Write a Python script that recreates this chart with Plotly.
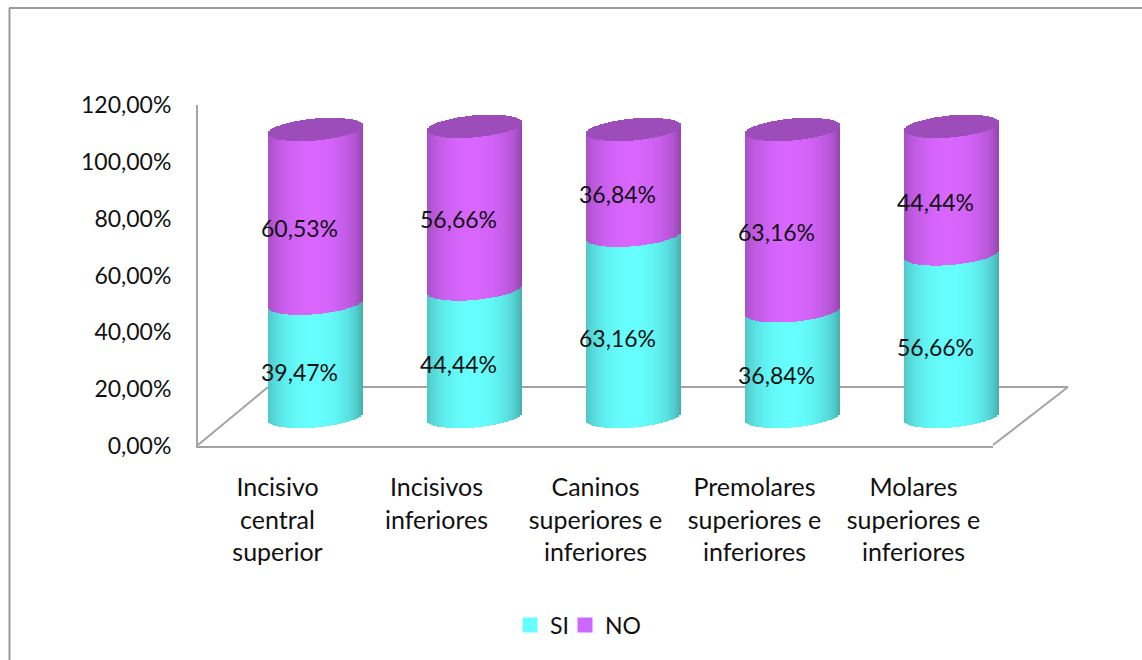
import numpy as np
import plotly.graph_objects as go

W, H = 1142, 660
categories = ["Incisivo<br>central<br>superior", "Incisivos<br>inferiores",
              "Caninos<br>superiores e<br>inferiores", "Premolares<br>superiores e<br>inferiores",
              "Molares<br>superiores e<br>inferiores"]
si_values = [39.47, 44.44, 63.16, 36.84, 56.66]
no_values = [60.53, 56.66, 36.84, 63.16, 44.44]
y_ticks = [0, 20, 40, 60, 80, 100, 120]
y_tick_labels = ["0,00%", "20,00%", "40,00%", "60,00%", "80,00%", "100,00%", "120,00%"]

FONT = "Lato"
TXT = "#111111"
GRAY = "#a3a3a3"

# front-plane scale of the cylinders (axis ranges chosen so that 100 % spans 287 px)
PX_PER_PCT = 2.87
PX_PER_CAT = 159.0
BASE_PX = 416.5
FIRST_PX = 315.5
RADIUS_PX = 47.5
TILT_PX = 4.0
SAG_PX = 11.0
N_STRIPS = 48


def shade(rgb, f):
    return "rgb(%d,%d,%d)" % tuple(int(round(c * f)) for c in rgb)


CYAN = (102, 255, 255)
PURPLE = (217, 102, 255)
CAP = (156, 77, 186)

u = (np.arange(N_STRIPS) + 0.5) / N_STRIPS * 2 - 1
sq = np.sqrt(1 - u ** 2)
light = 0.70 + 0.30 * np.clip(np.cos((u + 0.05) * np.pi / 2), 0, 1) ** 0.55
front = (TILT_PX * u - SAG_PX * sq) / PX_PER_PCT
back = (TILT_PX * u + SAG_PX * sq) / PX_PER_PCT
strip_w = 2 * RADIUS_PX / N_STRIPS / PX_PER_CAT * 1.05
strip_x = u * RADIUS_PX / PX_PER_CAT


def cylinder_trace(start, height, rgb, use_light=True):
    xs, bases, hs, cols = [], [], [], []
    for i in range(len(categories)):
        xs.extend(i + strip_x)
        bases.extend(start[i] + front)
        hs.extend(height[i])
        cols.extend(shade(rgb, f) for f in (light if use_light else np.ones_like(light)))
    return go.Bar(x=xs, y=hs, base=bases, width=strip_w, marker=dict(color=cols, line_width=0),
                  xaxis="x2", yaxis="y2", showlegend=False, hoverinfo="skip")


si = np.array(si_values)
no = np.array(no_values)
fig = go.Figure()

# trace that keeps the visible category/percent axes alive
fig.add_trace(go.Scatter(x=[0, 4], y=[0, 120], mode="markers", marker=dict(opacity=0), xaxis="x", yaxis="y",
                         showlegend=False, hoverinfo="skip"))

# legend entries
fig.add_trace(go.Scatter(x=[None], y=[None], name="SI", mode="markers", legend="legend",
                         marker=dict(symbol="square", size=15, color="rgb(102,255,255)"), xaxis="x2", yaxis="y2"))
fig.add_trace(go.Scatter(x=[None], y=[None], name="NO", mode="markers", legend="legend2",
                         marker=dict(symbol="square", size=15, color="rgb(204,102,255)"), xaxis="x2", yaxis="y2"))

# cylinders
fig.add_trace(cylinder_trace(np.zeros(5), [np.full(N_STRIPS, v) for v in si], CYAN))
fig.add_trace(cylinder_trace(si, [np.full(N_STRIPS, v) for v in no], PURPLE))
fig.add_trace(cylinder_trace(si + no, [back - front for _ in si], CAP, use_light=False))

# value labels
LABEL_DX = -16 / PX_PER_CAT
LABEL_DY = -15 / PX_PER_PCT
xs_lab = np.arange(5) + LABEL_DX
fmt = lambda v: f"{v:.2f}%".replace(".", ",")
fig.add_trace(go.Scatter(x=xs_lab, y=si / 2 + LABEL_DY, text=[fmt(v) for v in si], mode="text",
                         textposition="middle center", xaxis="x2", yaxis="y2", showlegend=False,
                         hoverinfo="skip", textfont=dict(family=FONT, size=23, color=TXT)))
fig.add_trace(go.Scatter(x=xs_lab, y=si + no / 2 + LABEL_DY, text=[fmt(v) for v in no], mode="text",
                         textposition="middle center", xaxis="x2", yaxis="y2", showlegend=False,
                         hoverinfo="skip", textfont=dict(family=FONT, size=23, color=TXT)))

px = lambda x: x / W
py = lambda y: 1 - y / H


def seg(x0, y0, x1, y1, color=GRAY, width=2):
    return dict(type="line", xref="paper", yref="paper", x0=px(x0), y0=py(y0), x1=px(x1), y1=py(y1),
                line=dict(color=color, width=width), layer="below")


shapes = [
    seg(268, 387, 1068, 387),
    seg(198, 445, 268, 387),
    seg(993, 445, 1068, 387),
    seg(9, 8, W, 8, "#9a9a9a", 2),
    seg(9.5, 8, 9.5, H, "#9a9a9a", 2),
]


def legend_at(x_px):
    return dict(orientation="h", x=x_px / W, xanchor="left", y=py(625), yanchor="middle",
                font=dict(family=FONT, size=23, color=TXT), bgcolor="rgba(0,0,0,0)", itemclick=False,
                itemdoubleclick=False)


fig.update_layout(
    width=W, height=H, margin=dict(l=0, r=0, t=0, b=0, pad=0),
    paper_bgcolor="white", plot_bgcolor="rgba(0,0,0,0)",
    barmode="overlay", bargap=0, shapes=shapes,
    font=dict(family=FONT, color=TXT, size=23),
    xaxis=dict(domain=[px(198), px(993)], range=[-0.5, 4.5], tickvals=list(range(5)), ticktext=categories,
               tickangle=0, showgrid=False, zeroline=False, showline=True, linecolor=GRAY, linewidth=2,
               ticks="", tickfont=dict(family=FONT, size=25, color=TXT), anchor="y", ticklabelstandoff=18,
               automargin=False),
    yaxis=dict(domain=[py(446), py(105)], range=[0, 120], tickvals=y_ticks, ticktext=y_tick_labels,
               showgrid=False, zeroline=False, showline=True, linecolor=GRAY, linewidth=2,
               ticks="", tickfont=dict(family=FONT, size=23, color=TXT), anchor="x", ticklabelstandoff=20,
               automargin=False),
    xaxis2=dict(domain=[0, 1], range=[(0 - FIRST_PX) / PX_PER_CAT, (W - FIRST_PX) / PX_PER_CAT],
                visible=False, anchor="y2", automargin=False),
    yaxis2=dict(domain=[0, 1], range=[(BASE_PX - H) / PX_PER_PCT, BASE_PX / PX_PER_PCT],
                visible=False, anchor="x2", automargin=False),
    legend=legend_at(510),
    legend2=legend_at(565),
)

fig.write_html("out.html", config={"displayModeBar": False}, post_script="document.body.style.margin='0';")
